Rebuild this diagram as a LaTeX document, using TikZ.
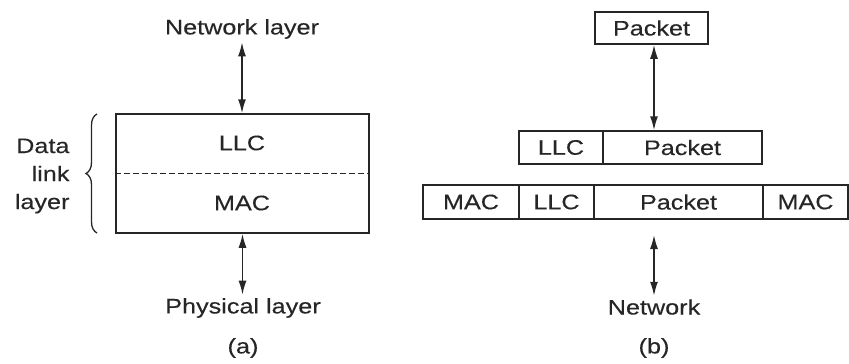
\documentclass[tikz,border=0pt]{standalone}
\usepackage{fontspec}
\setmainfont{Liberation Sans}[FakeStretch=1.2, FakeBold=0.3]
\usetikzlibrary{arrows.meta, positioning, decorations.pathreplacing}

\begin{document}
\begin{tikzpicture}[x=1pt, y=-1pt, >={Latex[length=14pt,width=8pt]},
    every node/.style={font=\fontsize{21}{28}\selectfont, text=black!85},
    box/.style={draw=black!85, line width=1.5pt, rectangle, inner sep=0pt, minimum height=33pt},
    link/.style={<->, draw=black!85, line width=1.6pt}]
                \useasboundingbox (0, 0) rectangle (849, 364);

                % (a) Data link layer
                \node (nl) at (242, 29) {Network layer};
                \node[box, minimum width=253pt, minimum height=119pt] (dll) at (242.5, 173.5) {};
                \node (llc) at (242, 143) {LLC};
                \node (mac) at (242, 203) {MAC};
                \draw[draw=black!85, line width=1.3pt, dash pattern=on 6pt off 3pt] (dll.west) -- (dll.east);
                \node (pl) at (243, 308) {Physical layer};
                \node (capa) at (243, 348) {(a)};

                % Brace
                \coordinate (br1) at (97, 233);
                \coordinate (br2) at (97, 114);
                \draw[decorate, decoration={brace, amplitude=11pt}, draw=black!85, line width=1.3pt] (br1) -- (br2);
                \node[align=right, anchor=east] (dlt) at (73, 176) {Data\\link\\layer};

                % Arrows
                \draw[link] (nl.south) -- (nl.south |- dll.north);
                \draw[link] (dll.south) -- (dll.south |- pl.north);

                % (b) Encapsulation
                \node[box, minimum width=113pt, minimum height=32pt] (pkt) at (651.5, 28) {Packet};
                % Middle row
                \node[box, minimum width=84pt] (mllc) at (561, 147.5) {LLC};
                \node[box, minimum width=159pt] (mpkt) at (682.5, 147.5) {Packet};
                % Bottom row
                \node[box, minimum width=96pt, minimum height=34pt] (bmac1) at (471, 202) {MAC};
                \node[box, minimum width=75pt, minimum height=34pt] (bllc) at (556.5, 202) {LLC};
                \node[box, minimum width=169pt, minimum height=34pt] (bpkt) at (678.5, 202) {Packet};
                \node[box, minimum width=85pt, minimum height=34pt] (bmac2) at (805.5, 202) {MAC};

                \node (net) at (654, 307) {Network};
                \node (capb) at (654, 348) {(b)};

                % Arrows
                \coordinate (nettop) at (654, 235);
                \draw[link] ([xshift=2.5pt]pkt.south) -- ([xshift=2.5pt]pkt.south |- mllc.north);
                \draw[link] (nettop) -- (net);

            \end{tikzpicture}
\end{document}
